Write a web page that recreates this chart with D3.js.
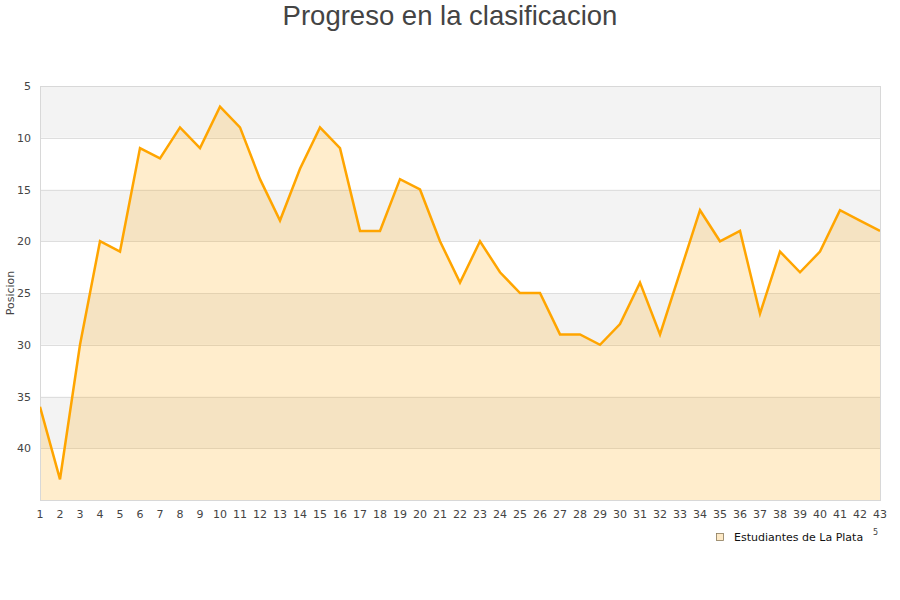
<!DOCTYPE html>
<html>
<head>
<meta charset="utf-8">
<script src="https://cdnjs.cloudflare.com/ajax/libs/d3/7.8.5/d3.min.js"></script>
<style>
  body { margin: 0; background: #fff; font-family: "DejaVu Sans", sans-serif; }
</style>
</head>
<body>
<svg width="900" height="600"></svg>
<script>
// jornadas and positions
var jornadas = d3.range(1, 44);
var posiciones = [36, 43, 30, 20, 21, 11, 12, 9, 11, 7, 9, 14, 18, 13, 9, 11, 19, 19, 14, 15,
                  20, 24, 20, 23, 25, 25, 29, 29, 30, 28, 24, 29, 23, 17, 20, 19, 27, 21, 23, 21,
                  17, 18, 19];
var yTicks = [5, 10, 15, 20, 25, 30, 35, 40];
var bands = [[5, 10], [15, 20], [25, 30], [35, 40]];
var equipo = "Estudiantes de La Plata";

var svg = d3.select("svg");
var pLeft = 40, pRight = 880, pTop = 86, pBottom = 500;

var x = d3.scaleLinear().domain([1, 43]).range([pLeft, pRight]);
var y = d3.scaleLinear().domain([5, 45]).range([pTop, pBottom]);

// title
svg.append("text")
  .attr("x", 450).attr("y", 25)
  .attr("text-anchor", "middle")
  .style("font-family", "Liberation Sans, Arial, sans-serif")
  .style("font-size", "27.5px")
  .style("fill", "#444")
  .text("Progreso en la clasificacion");

// alternate gray bands
svg.append("g").selectAll("rect")
  .data(bands)
  .enter()
  .append("rect")
  .attr("x", pLeft)
  .attr("width", pRight - pLeft)
  .attr("y", function (d) { return y(d[0]); })
  .attr("height", function (d) { return y(d[1]) - y(d[0]); })
  .style("fill", "#f3f3f3");

// gridlines
svg.append("g").selectAll("line")
  .data(yTicks.slice(1))
  .enter()
  .append("line")
  .attr("x1", pLeft).attr("x2", pRight)
  .attr("y1", function (d) { return Math.round(y(d)) + 0.5; })
  .attr("y2", function (d) { return Math.round(y(d)) + 0.5; })
  .style("stroke", "#dedede")
  .style("stroke-width", 1);

var pts = jornadas.map(function (j, i) { return [j, posiciones[i]]; });

// area under the line (down to position 45)
var area = d3.area()
  .x(function (d) { return x(d[0]); })
  .y0(y(45))
  .y1(function (d) { return y(d[1]); });

svg.append("path")
  .datum(pts)
  .attr("d", area)
  .style("fill", "rgb(255,165,0)")
  .style("fill-opacity", 0.2);

// plot border
svg.append("rect")
  .attr("x", pLeft + 0.5).attr("y", pTop + 0.5)
  .attr("width", pRight - pLeft).attr("height", pBottom - pTop)
  .style("fill", "none")
  .style("stroke", "#d8d8d8");

// the line
svg.append("clipPath").attr("id", "clip")
  .append("rect").attr("x", pLeft).attr("y", pTop - 5)
  .attr("width", pRight - pLeft).attr("height", pBottom - pTop + 10);

svg.append("path")
  .datum(pts)
  .attr("clip-path", "url(#clip)")
  .attr("d", d3.line().x(function (d) { return x(d[0]); }).y(function (d) { return y(d[1]); }))
  .style("fill", "none")
  .style("stroke", "#ffa500")
  .style("stroke-width", 2.5)
  .style("stroke-linejoin", "miter");

// y axis labels
svg.append("g").selectAll("text")
  .data(yTicks)
  .enter()
  .append("text")
  .attr("x", 31)
  .attr("y", function (d) { return y(d) + 4; })
  .attr("text-anchor", "end")
  .style("font-size", "11px")
  .style("fill", "#444")
  .text(function (d) { return d; });

svg.append("text")
  .attr("transform", "translate(14,293) rotate(-90)")
  .attr("text-anchor", "middle")
  .style("font-size", "11px")
  .style("fill", "#444")
  .text("Posicion");

// x axis labels
svg.append("g").selectAll("text")
  .data(jornadas)
  .enter()
  .append("text")
  .attr("x", function (d) { return x(d); })
  .attr("y", 518)
  .attr("text-anchor", "middle")
  .style("font-size", "11px")
  .style("fill", "#444")
  .text(function (d) { return d; });

// legend
var leg = svg.append("g").attr("transform", "translate(716,533)");
leg.append("rect")
  .attr("width", 7).attr("height", 7)
  .attr("x", 0.5).attr("y", 0.5)
  .style("fill", "#fde9c6")
  .style("stroke", "#8a7a5a")
  .style("stroke-width", 0.8);
leg.append("text")
  .attr("x", 18).attr("y", 8)
  .style("font-size", "11px")
  .style("fill", "#111")
  .text(equipo);
svg.append("text")
  .attr("x", 873).attr("y", 535)
  .style("font-size", "8px")
  .style("fill", "#444")
  .text("5");
</script>
</body>
</html>
